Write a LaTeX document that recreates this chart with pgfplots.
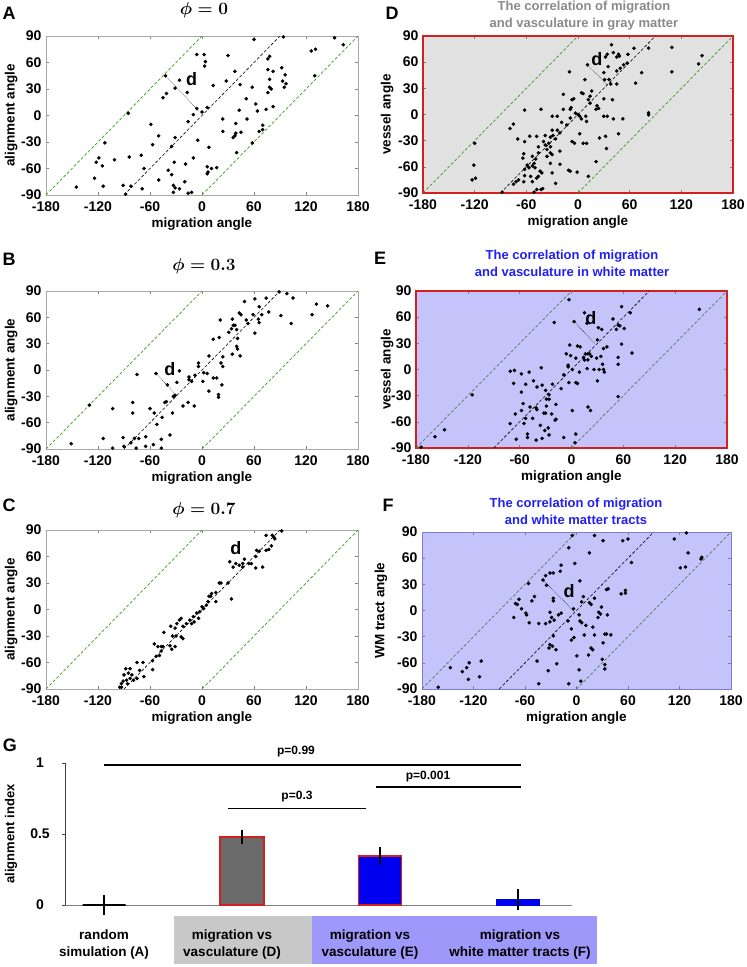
\documentclass[border=0pt]{standalone}
\usepackage{amsmath}
\usepackage{pgfplots}
\pgfplotsset{compat=1.18}
\usepackage{fontspec}
\setmainfont{Liberation Sans}
\definecolor{framegray}{HTML}{A8A8A8}
\definecolor{framered}{HTML}{D41F1F}
\definecolor{frameblue}{HTML}{7C7CD0}
\definecolor{dbg}{HTML}{E1E1E1}
\definecolor{ebg}{HTML}{C4C4FA}
\definecolor{grn}{HTML}{3A9B1F}
\definecolor{grn2}{HTML}{4E7D55}
\definecolor{titleblue}{HTML}{2020F5}
\definecolor{titlegray}{HTML}{8A8A8A}
\definecolor{bargray}{HTML}{6B6B6B}
\definecolor{barblue}{HTML}{0000F0}
\definecolor{boxgray}{HTML}{C8C8C8}
\definecolor{boxblue}{HTML}{9D98FA}
\tikzset{
  dlab/.style={font=\bfseries\fontsize{18}{18}\selectfont},
  plab/.style={font=\bfseries\fontsize{18}{18}\selectfont},
  ptitle/.style={font=\fontsize{16}{18}\selectfont},
  ttitle/.style={font=\bfseries\fontsize{13}{17}\selectfont, align=center},
}
\pgfplotsset{
  scat/.style={
    anchor=south west, scale only axis,
    xmin=-180, xmax=180, ymin=-90, ymax=90,
    xtick={-180,-120,-60,0,60,120,180}, ytick={-90,-60,-30,0,30,60,90},
    tick align=inside, major tick length=3pt,
    tick style={color=gray, line width=0.4pt},
    /pgf/number format/assume math mode=true,
    ticklabel style={font=\bfseries\fontsize{14}{16}\selectfont},
    xticklabel style={yshift=-3pt},
    yticklabel style={xshift=-1pt},
    label style={font=\bfseries\fontsize{13.5}{15}\selectfont},
    xlabel={migration angle},
    xlabel style={at={(axis description cs:0.5,-0.185)}, anchor=center},
    axis line style={color=framegray, line width=0.6pt},
  },
  pts/.style={only marks, mark=*, mark size=1.6pt, color=black},
  gd/.style={color=grn, dashed, line width=0.7pt, dash pattern=on 3pt off 2pt},
  gdb/.style={color=grn2, dashed, line width=0.7pt, dash pattern=on 3pt off 2pt},
  kd/.style={color=black, dashed, line width=0.6pt, dash pattern=on 3pt off 2pt},
  dl/.style={color=black, densely dotted, line width=0.5pt},
}
\begin{document}
\begin{tikzpicture}
\path[use as bounding box] (0,0) rectangle (747pt,-967pt);
% ---------- A ----------
\begin{axis}[scat, at={(46pt,-195pt)}, width=312pt, height=159pt,
  ylabel={alignment angle}, ylabel style={at={(axis description cs:-0.112,0.5)}, anchor=center}]
\addplot[gd] coordinates {(-180,-90)(0,90)};
\addplot[gd] coordinates {(0,-90)(180,90)};
\addplot[kd] coordinates {(-90,-90)(90,90)};
\addplot[dl] coordinates {(-42,45)(-4,5)};
\addplot[pts] coordinates {(153,88)(163,80)(126,73)(131,75)(130,45)(94,89)(60,86)(-6,69)(2.5,69)(4,61)(3,56)(30,68)(78,67)(76,64)(76,52)(82,50)(78,41)(92,54)(96,46)(93,39)(97,36)(95,32)(78,32)(80,30)(76,26)(82,10)(74,7)(64,5)(62,13)(58,32)(51,19)(52,-4)(28,39)(13,34)(38,50)(44,35)(43,6)(39,-9)(24,-4)(24,-18)(45,-19)(39,-20)(38,-23)(36,-25)(40,-42)(58,-31)(66,-18)(70,-11)(70,-16)(8,-36)(6,9)(0,4)(-6,8)(-10,1)(-16,-7)(-17,26)(-26,40)(-31,31)(-41,25)(-45,20)(-42,45)(-85,2.5)(-59,-10)(-57,-33)(-50,-23)(-35,-35)(-31,-25)(-32,-53)(-19,-55)(-10,-48)(-5,-28)(-39,-62)(-35,-67)(-33,-79)(-31,-82)(-33,-87)(-20,-75)(-16,-88)(-12,-87)(-26,-83)(-50,-73)(-67,-60)(-70,-45)(-69,-83)(-84,-47)(-82,-80)(-91,-79)(-88,-89)(-101,-50)(-112,-31)(-119,-48)(-122,-53)(-115,-57)(-124,-71)(-114,-80)(6,-58)(7,-64)(6,-66)(11,-60)(17,-59)(-145,-81)};
\node[dlab] at (axis cs:-12,41) {d};
\end{axis}
% ---------- D ----------
\begin{axis}[scat, at={(423pt,-193pt)}, width=310pt, height=157pt,
  axis background/.style={fill=dbg},
  axis line style={color=framered, line width=1.8pt},
  ylabel={vessel angle}, ylabel style={at={(axis description cs:-0.116,0.5)}, anchor=center}]
\addplot[gd] coordinates {(-180,-90)(0,90)};
\addplot[gd] coordinates {(0,-90)(180,90)};
\addplot[kd] coordinates {(-90,-90)(90,90)};
\addplot[dl] coordinates {(11,57)(34,34)};
\addplot[pts] coordinates {(144,67.5)(140,58)(109,77)(109,49)(82,76)(74,48)(67,36)(65,76)(39,80)(41,71)(47,69)(45,66)(48,67)(34,69)(32,66)(58,69)(57,59)(53,57)(49,53)(45,50)(35,55)(30,48)(11,57)(8,40)(31,40)(36,40)(38,35)(45,35)(40,17)(30,18)(22,10)(24,7)(16,27)(14,21)(12,17)(6,24)(4,25)(14,13)(21,6)(30,-2)(34,-2)(41,-5)(52,-5)(47,-22)(-7,17)(-5,18)(-9,6)(-3,1.5)(0,0)(2,-2)(4,-5)(9,-2)(10,-8)(-9,-4)(-13,-12)(-19,-9)(-24,-2)(-30,-2)(-17,6)(-8,8)(-10,49)(2,-22)(-4,-33)(6,-33)(10,-33)(25,-27)(32,-25)(33,-39)(21,-54)(12,-71)(-7,-31)(-9,-65)(-11,-64)(-1,-66)(-21,-21)(-24,-18)(-21,-42)(-26,-28)(-29,-24)(-30,-18)(-32,-26)(-34,-33)(-32,-37)(-32,-44)(-30,-46)(-38,-24)(-40,-31)(-38,-35)(-36,-40)(-36,-48)(-32,-56)(-30,-67)(-26,-79)(-21,-57)(-43,6)(-48,-25)(-46,-37)(-46,-44)(-49,-51)(-51,-56)(-53,-48)(-53,-59)(-50,-61)(-44,-65)(-42,-67)(-46,-71)(-48,-73)(-55,-71)(-53,-77)(-48,-86)(-43,-86)(-41,-85)(-51,-89)(-57,-61)(-59,-58)(-63,-45)(-64,-50)(-62,-63)(-62,-70)(-63,-77)(-69,-75)(-72,-77)(-75,-80)(-62,5)(-62,-31)(-56,-25)(-70,-28)(-75,-11)(-79,-16)(-88,-89)(-120,-33)(-121,-58)(-123,-75)(-119,-73)(82,-0.4)(82,2)(-17,23)};
\node[dlab] at (axis cs:22,63) {d};
\end{axis}
% ---------- B ----------
\begin{axis}[scat, at={(46pt,-449pt)}, width=312pt, height=158pt,
  ylabel={alignment angle}, ylabel style={at={(axis description cs:-0.112,0.5)}, anchor=center}]
\addplot[gd] coordinates {(-180,-90)(0,90)};
\addplot[gd] coordinates {(0,-90)(180,90)};
\addplot[kd] coordinates {(-90,-90)(90,90)};
\addplot[dl] coordinates {(-53,-4)(-29,-29)};
\addplot[pts] coordinates {(89,89)(98,87)(105,82)(91,62)(103,53)(127,63)(132,75)(145,73)(74,82)(61,81)(66,72)(69,63)(77,66)(59,63)(51,57)(53,53)(65,58)(66,54)(61,42)(49,78)(43,65)(45,63)(35,58)(36,51)(38,51)(34,47)(31,43)(40,46)(41,36)(40,27)(41,24)(44,16)(35,18)(21,57)(20,37)(13,35)(24,15)(8,16)(22,8)(24,4)(-4,8)(-4,4)(-26,-1)(2,-3)(6,-4)(-8,-6)(-15,-8)(-15,-11)(-12,-13)(1,-13)(13,-9)(17,-9)(23,-17)(8,-24)(19,-28)(19,-31)(-29,-14)(-40,-17)(-53,-4)(-75,-5)(-43,-37)(-41,-36)(-31,-29)(-33,-30)(-22,-41)(-16,-37)(-9,-41)(-80,-37)(-80,-49)(-103,-44)(-130,-40)(-60,-44)(-55,-49)(-34,-49)(-46,-54)(-151,-84)(-114,-78)(-103,-89)(-91,-77)(-90,-87)(-82,-83)(-78,-78)(-73,-78)(-76,-89)(-65,-76)(-65,-87)(-56,-85)(-52,-62)(-47,-79)(-47,-89)(-37,-74)};
\node[dlab] at (axis cs:-37,1) {d};
\end{axis}
% ---------- E ----------
\begin{axis}[scat, at={(416pt,-448pt)}, width=311pt, height=157pt,
  axis background/.style={fill=ebg},
  axis line style={color=framered, line width=1.8pt},
  ylabel={vessel angle}, ylabel style={at={(axis description cs:-0.093,0.5)}, anchor=center}]
\addplot[gdb] coordinates {(-180,-90)(0,90)};
\addplot[gdb] coordinates {(0,-90)(180,90)};
\addplot[kd] coordinates {(-90,-90)(90,90)};
\addplot[dl] coordinates {(3,55)(27,30)};
\addplot[pts] coordinates {(-3,80)(-20,54)(3,55)(15,65)(18,53)(31,48)(35,46)(58,72)(48,58)(52,46)(54,51)(56,50)(61,47)(68,65)(148,69)(70,19)(58,29)(54,14)(54,6)(54,-31)(30,34)(41,26)(37,24)(-2,28)(7,27)(10,26)(-6,18)(-1,16)(16,18)(19,18)(21,18)(23,15)(19,11)(14,14)(5,13)(15,11)(29,13)(34,15)(18,1)(26,0)(32,0)(36,6)(37,0)(38,-3)(30,-13)(9,-3)(1,0)(-4,3)(-4,5)(-9,-6)(-3,-15)(5,-15)(7,-16)(1,-47)(19,-43)(22,-47)(-12,-22)(-22,-17)(-35,2)(-49,-3)(-58,-5)(-66,-1)(-71,-2)(-67,-16)(-53,-17)(-44,-13)(-40,-20)(-34,-18)(-58,-26)(-30,-24)(-26,-29)(-26,-34)(-29,-34)(-40,-46)(-41,-44)(-29,-42)(-18,-40)(-23,-51)(-32,-50)(-30,-50)(-56,-39)(-58,-47)(-48,-43)(-45,-56)(-65,-51)(-53,-56)(-115,-29)(-18,-57)(-158,-77)(-147,-69)(-71,-62)(-55,-62)(-64,-80)(-51,-74)(-51,-78)(-41,-81)(-36,-64)(-34,-79)(-31,-70)(-27,-67)(-26,-75)(-19,-58)(-9,-78)(5,-74)(4,-84)(-174,-89)};
\node[dlab] at (axis cs:22.5,59.5) {d};
\end{axis}
% ---------- C ----------
\begin{axis}[scat, at={(46pt,-689pt)}, width=312pt, height=159pt,
  ylabel={alignment angle}, ylabel style={at={(axis description cs:-0.112,0.5)}, anchor=center}]
\addplot[gd] coordinates {(-180,-90)(0,90)};
\addplot[gd] coordinates {(0,-90)(180,90)};
\addplot[kd] coordinates {(-90,-90)(90,90)};
\addplot[pts] coordinates {(92,89)(83,82)(81,84)(74,84)(84,80)(80,72)(77,68)(74,67)(66,66)(63,67)(62,60)(70,48)(62,47)(57,52)(54,52)(49,57)(47,52)(47,48)(43,50)(36,48)(32,54)(39,52)(34,12)(30,30)(22,30)(20,30)(16,19)(11,18)(10,15)(8,15)(16,9)(7,9)(5,5)(0,3)(2,1)(-2.5,-2.5)(-6,-4)(-10,-8)(-4,-10)(-14,-12)(-12,-16)(-18,-16)(-24,-10)(-22,-19)(-26,-12)(-29,-16)(-36,-19)(-31,-21)(-9,-14)(-44,-26)(-34,-30)(-30,-30)(-24,-31)(-22,-33)(-55,-39)(-51,-42)(-47,-42)(-45,-42)(-37,-41)(-35,-45)(-31,-42)(-47,-47)(-49,-52)(-53,-53)(-57,-58)(-57,-68)(-68,-60)(-75,-60)(-72,-69)(-67,-76)(-83,-67)(-88,-67)(-85,-72)(-90,-74)(-81,-74)(-83,-78)(-79,-80)(-75,-78)(-87,-80)(-91,-81)(-93,-84)(-95,-88)(-86,-84)(-93,-88)};
\node[dlab] at (axis cs:39,69) {d};
\end{axis}
% ---------- F ----------
\begin{axis}[scat, at={(422pt,-689pt)}, width=309pt, height=157pt,
  axis background/.style={fill=ebg},
  axis line style={color=frameblue, line width=1pt},
  ylabel={WM tract angle}, ylabel style={at={(axis description cs:-0.133,0.5)}, anchor=center}]
\addplot[gdb] coordinates {(-180,-90)(0,90)};
\addplot[gdb] coordinates {(0,-90)(180,90)};
\addplot[kd] coordinates {(-90,-90)(90,90)};
\addplot[dl] coordinates {(-39,35)(-3,-1)};
\addplot[pts] coordinates {(-5,86)(21,86)(31,80)(54,80)(60,82)(114,82)(128,89)(130,66)(121,49)(127,50)(145,59)(146,61)(64,55)(15,66)(-9,72)(-2,54)(-18,52)(-19,45)(-31,43)(-27,43)(-36,40)(-39,35)(-35,29)(4,34)(-27,14)(-27,11)(-56,31)(-49,16)(-52,11)(-67,13)(-71,8)(-69,7)(-64,2)(-59,-3)(-58,-5)(-73,-8)(-55,-14)(-31,-2)(-29,-8)(-21,-5)(-18,-3)(-3.5,2)(3,-5)(8,16)(6,10)(15,9)(17,7)(21,14)(29,4)(26,-2)(28,-4)(36,-5)(25,-8)(35,24)(37,25)(52,19)(57,23)(57,20)(-44,-15)(-36,-15)(-31,-13)(-26,-11)(-10,-12)(-6,-21)(4,-12)(6,-14)(11,-17)(19,-19)(-161,-88)(-147,-65.5)(-133,-70)(-128,-65.5)(-125,-60)(-126,-79)(-113,-76)(-111,-58)(-46,-58)(-44,-84)(-33,-69)(-31,-39)(-28,-41)(-24,-45)(-32,-43)(-23,-61)(-27,-29)(-6,-34)(-3,-31)(-9,-84)(0.4,-52)(3,-68)(5,-81)(14,-51)(17,-43)(19,-45)(21,-28)(30,-56)(31,-37)(33,-27)(35,-27)(40,-28)(33,-62)(33,-67)(9,-28)};
\node[dlab] at (axis cs:-8.5,22) {d};
\end{axis}
% ---------- G ----------
\begin{axis}[at={(65pt,-905pt)}, anchor=south west, scale only axis,
  width=507pt, height=142pt, xmin=-0.283, xmax=3.391, ymin=0, ymax=1,
  axis x line=bottom, axis y line=left,
  axis line style={-, color=darkgray, line width=0.6pt},
  x axis line style={color=gray},
  xtick=\empty, ytick={0,0.5,1}, yticklabels={0,0.5,1},
  tick align=outside, major tick length=3pt, tick style={color=darkgray},
  yticklabel style={font=\bfseries\fontsize{14}{16}\selectfont, anchor=center, xshift=-22pt},
  ylabel={alignment index},
  ylabel style={at={(axis description cs:-0.1065,0.5)}, anchor=center, font=\bfseries\fontsize{13}{14}\selectfont},
  clip=false,
  error bars/error bar style={line width=1.8pt, color=black},
  error bars/error mark options={line width=1.5pt, mark size=1.2pt, color=black}]
\addplot[ybar, bar width=43pt, draw=black, line width=1.4pt,
  error bars/.cd, y dir=both, y explicit] coordinates {(0,0) +- (0,0.06)};
\addplot[ybar, bar width=44pt, fill=bargray, draw=framered, line width=1.4pt,
  error bars/.cd, y dir=both, y explicit] coordinates {(1,0.48) +- (0,0.04)};
\addplot[ybar, bar width=43pt, fill=barblue, draw=framered, line width=1.4pt,
  error bars/.cd, y dir=both, y explicit] coordinates {(2,0.345) +- (0,0.055)};
\addplot[ybar, bar width=43pt, fill=barblue, draw=barblue, line width=0.5pt,
  error bars/.cd, y dir=both, y explicit] coordinates {(3,0.04) +- (0,0.065)};
\addplot[color=black, line width=1.8pt] coordinates {(0,0.986)(3.02,0.986)};
\addplot[color=black, line width=1.8pt] coordinates {(1.97,0.83)(3.02,0.83)};
\addplot[color=black, line width=1.8pt] coordinates {(0.90,0.68)(1.90,0.68)};
\end{axis}
% ---------- titles and annotations (picture coordinates) ----------
\node[ptitle] at (204pt,-10pt) {$\boldsymbol{\phi = 0}$};
\node[ptitle] at (204pt,-266pt) {$\boldsymbol{\phi = 0.3}$};
\node[ptitle] at (204pt,-510pt) {$\boldsymbol{\phi = 0.7}$};
\node[ttitle, text=titlegray] at (584pt,-15.5pt) {The correlation of migration\\and vasculature in gray matter};
\node[ttitle, text=titleblue] at (572pt,-263.5pt) {The correlation of migration\\and vasculature in white matter};
\node[ttitle, text=titleblue] at (576pt,-511pt) {The correlation of migration\\and white matter tracts};
\node[font=\bfseries\fontsize{12}{14}\selectfont] at (296pt,-752pt) {p=0.99};
\node[font=\bfseries\fontsize{12}{14}\selectfont] at (428pt,-777pt) {p=0.001};
\node[font=\bfseries\fontsize{12}{14}\selectfont] at (297pt,-797pt) {p=0.3};
\fill[boxgray] (174pt,-916pt) rectangle (312pt,-964pt);
\fill[boxblue] (312pt,-916pt) rectangle (597pt,-964pt);
\node[font=\bfseries\fontsize{13.5}{17}\selectfont, align=center] at (104pt,-944.5pt) {random\\simulation (A)};
\node[font=\bfseries\fontsize{13.5}{17}\selectfont, align=center] at (232pt,-944.5pt) {migration vs\\vasculature (D)};
\node[font=\bfseries\fontsize{13.5}{17}\selectfont, align=center] at (370pt,-944.5pt) {migration vs\\vasculature (E)};
\node[font=\bfseries\fontsize{13.5}{17}\selectfont, align=center] at (520pt,-944.5pt) {migration vs\\white matter tracts (F)};
\node[plab] at (9pt,-13pt) {A};
\node[plab] at (392pt,-13pt) {D};
\node[plab] at (9pt,-259pt) {B};
\node[plab] at (380pt,-258pt) {E};
\node[plab] at (9pt,-505pt) {C};
\node[plab] at (388pt,-505pt) {F};
\node[plab] at (10pt,-745pt) {G};
\end{tikzpicture}
\end{document}
